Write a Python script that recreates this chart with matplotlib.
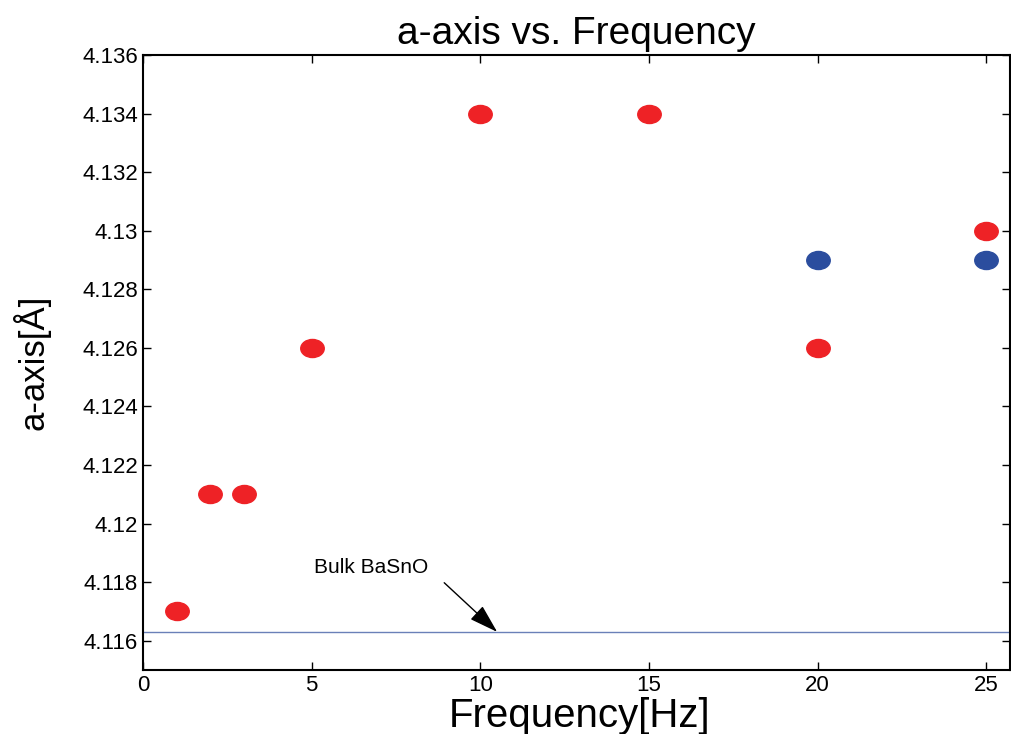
import matplotlib
matplotlib.use("Agg")
import matplotlib.pyplot as plt
from matplotlib.markers import MarkerStyle
from matplotlib.path import Path
from matplotlib.transforms import Affine2D
from matplotlib.ticker import FuncFormatter

# datos
freq_rojo = [1, 2, 3, 5, 10, 15, 20, 25]
aaxis_rojo = [4.117, 4.121, 4.121, 4.126, 4.134, 4.134, 4.126, 4.130]
freq_azul = [20, 25]
aaxis_azul = [4.129, 4.129]
bulk_basno = 4.1163

xticks = [0, 5, 10, 15, 20, 25]
yticks = [4.116, 4.118, 4.120, 4.122, 4.124, 4.126, 4.128, 4.130, 4.132, 4.134, 4.136]

plt.rcParams['font.family'] = ['Liberation Sans', 'DejaVu Sans']

fig = plt.figure(figsize=(10.11, 7.34), dpi=100)
ax = fig.add_axes([0.1414, 0.0872, 0.8576, 0.8378])

# marcador eliptico (MATLAB estirado)
elipse = MarkerStyle(Path.unit_circle(), transform=Affine2D().scale(1.3, 1.0))

ax.plot(freq_rojo, aaxis_rojo, linestyle="none", marker=elipse,
        markersize=13, color="#EE2226", markeredgecolor="#EE2226")
ax.plot(freq_azul, aaxis_azul, linestyle="none", marker=elipse,
        markersize=13, color="#2B4D9E", markeredgecolor="#2B4D9E")

ax.axhline(bulk_basno, color="#6A80B8", linewidth=1)
# flecha y texto
ax.annotate("", xy=(10.5, bulk_basno), xytext=(8.93, 4.11798),
            arrowprops=dict(arrowstyle="-|>,head_length=0.9,head_width=0.28",
                            color="black", lw=1, mutation_scale=20,
                            shrinkA=0, shrinkB=0))
ax.text(6.76, 4.1185, "Bulk BaSnO", fontsize=15, ha="center", va="center")

ax.set_xlim(0, 25.7)
ax.set_ylim(4.115, 4.136)
ax.set_xticks(xticks)
ax.set_yticks(yticks)
ax.yaxis.set_major_formatter(FuncFormatter(lambda v, p: f"{v:.3f}".rstrip("0")))
ax.tick_params(direction="in", top=True, right=True, labelsize=16, length=6, width=1)
for s in ax.spines.values():
    s.set_linewidth(1.5)

ax.set_title("a-axis vs. Frequency", fontsize=28, pad=8)
ax.set_xlabel("Frequency[Hz]", fontsize=29, va="baseline")
ax.xaxis.set_label_coords(0.504, -0.0927)
ax.set_ylabel("a-axis[Å]", fontsize=25, va="center")
ax.yaxis.set_label_coords(-0.129, 0.5)

fig.savefig("out.png", dpi=100)
